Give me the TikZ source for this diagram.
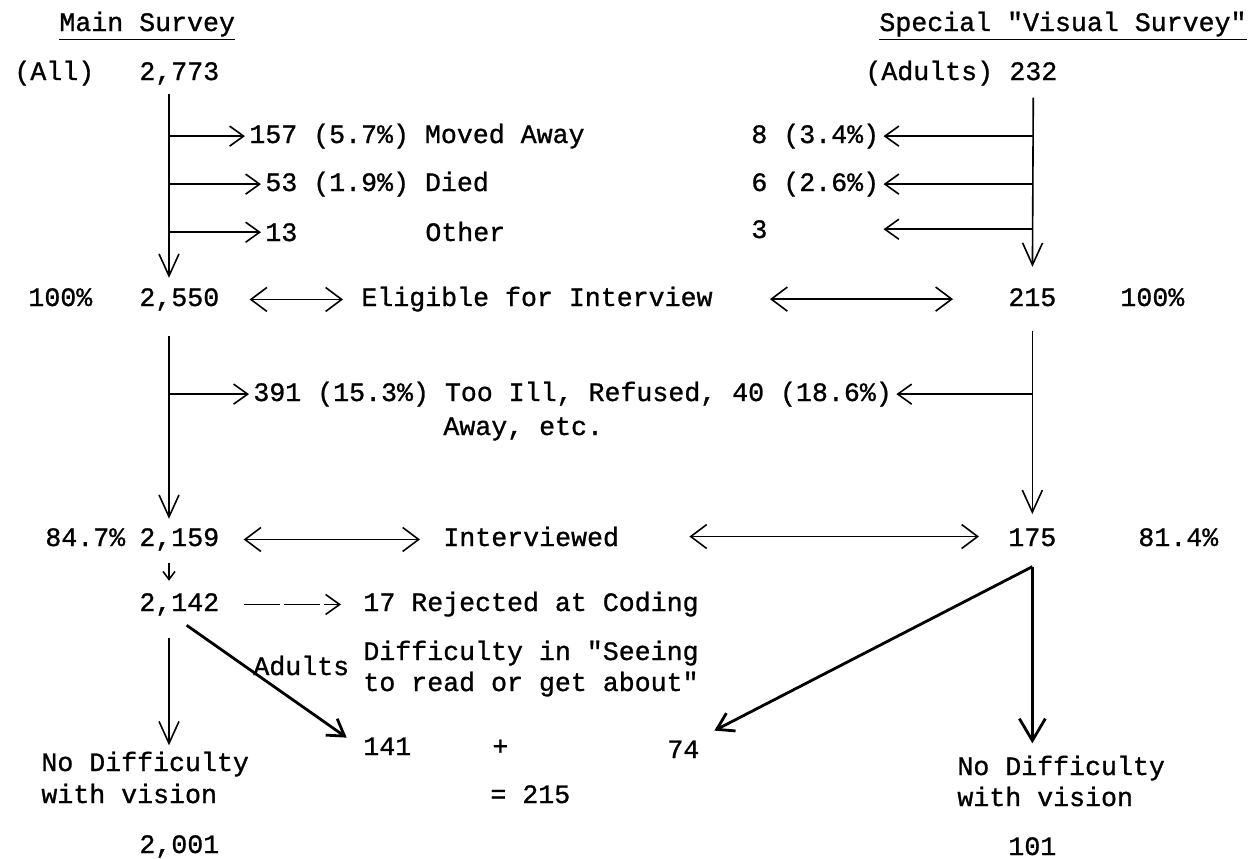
\documentclass[tikz,border=0pt]{standalone}
\usepackage{fontspec}
\setmainfont{Liberation Mono}[Ligatures=TeXOff, FakeBold=1]
\usepackage{tikz}
\usetikzlibrary{arrows.meta,calc}

\begin{document}
\begin{tikzpicture}[x=0.5pt, y=-0.5pt,
    every node/.style={font=\fontsize{13.3}{16}\selectfont, inner sep=2pt, anchor=base west},
    flow/.style={line width=0.8pt, -{Straight Barb[length=7pt,width=10pt]}},
    downflow/.style={line width=0.8pt, -{Straight Barb[length=11pt,width=10pt]}},
    both/.style={line width=0.8pt, {Straight Barb[length=8pt,width=12pt]}-{Straight Barb[length=8pt,width=12pt]}},
    heavy/.style={line width=1.4pt, -{Straight Barb[length=8pt,width=10pt]}}]

\useasboundingbox (0,0) rectangle (1257,858);
\coordinate (lcol) at (169,0);

% Headings
\node (mainhd) at (55,31) {\underline{Main Survey}};
\node (spechd) at (875,31) {\underline{Special "Visual Survey"}};

% Starting counts
\node (all) at (10,80) {(All)};
\node (n2773) at (135,80) {2,773};
\node (adults) at (861,80) {(Adults)};
\node (n232) at (1005,80) {232};

% Losses before eligibility
\node (moved) at (245,143) {157 (5.7\%) Moved Away};
\node (died) at (261,191) {53 (1.9\%) Died};
\node (oth) at (261,241) {13};
\node (othlbl) at (421,241) {Other};
\node (r8) at (747,143) {8 (3.4\%)};
\node (r6) at (747,191) {6 (2.6\%)};
\node (r3) at (747,238) {3};

% Eligible
\node (pl100) at (24,306) {100\%};
\node (n2550) at (135,306) {2,550};
\node (elig) at (357,306) {Eligible for Interview};
\node (n215) at (1004,306) {215};
\node (pr100) at (1116,306) {100\%};

% Not interviewed
\node (toill) at (249,401) {391 (15.3\%) Too Ill, Refused, 40 (18.6\%)};
\node (away) at (439,435) {Away, etc.};

% Interviewed
\node (pl847) at (41,546) {84.7\%};
\node (n2159) at (135,546) {2,159};
\node (intv) at (439,546) {Interviewed};
\node (n175) at (1004,546) {175};
\node (pr814) at (1134,546) {81.4\%};

% Coding and difficulty
\node (n2142) at (135,611) {2,142};
\node (rej) at (359,611) {17 Rejected at Coding};
\node (seeA) at (359,660) {Difficulty in "Seeing};
\node (seeB) at (359,691) {to read or get about"};
\node (adlt) at (249,675) {Adults};
\node (n141) at (359,755) {141};
\node (plus) at (488,755) {+};
\node (n74) at (663,758) {74};
\node (sum) at (486,803) {= 215};

% No difficulty
\node (nodl1) at (37,771) {No Difficulty};
\node (nodl2) at (37,803) {with vision};
\node (n2001) at (135,853) {2,001};
\node (nodr1) at (953,775) {No Difficulty};
\node (nodr2) at (953,806) {with vision};
\node (n101) at (1004,855) {101};

% Main survey column
\draw[downflow, shorten <=2.5pt, shorten >=3pt] (lcol |- n2773.south) -- (lcol |- n2550.north);
\draw[flow] (lcol |- moved.west) -- (moved.west);
\draw[flow] (lcol |- died.west) -- (died.west);
\draw[flow] (lcol |- oth.west) -- (oth.west);
\draw[downflow, shorten <=10.5pt, shorten >=2.5pt] (lcol |- n2550.south) -- (lcol |- n2159.north);
\draw[flow] (lcol |- toill.west) -- (toill.west);
\draw[line width=0.8pt, -{Straight Barb[length=4pt,width=6pt]}, shorten <=4pt, shorten >=4pt] (lcol |- n2159.south) -- (lcol |- n2142.north);
\draw[flow, dash pattern=on 18pt off 2pt, shorten <=10pt, shorten >=9pt] (n2142.east) -- (n2142.east -| rej.west);
\draw[heavy, shorten <=4.5pt, shorten >=7.5pt] (n2142.south) -- (n141.west);
\draw[downflow, shorten <=9pt, shorten >=1pt] (lcol |- n2142.south) -- (lcol |- nodl1.north);

% Visual survey column
\draw[downflow, shorten <=6.5pt, shorten >=8.5pt] (n232.south) -- (n215.north);
\draw[flow] (n232.south |- r8.east) -- (r8.east);
\draw[flow] (n232.south |- r6.east) -- (r6.east);
\draw[flow] (n232.south |- r3.east) -- (r8.east |- r3.east);
\draw[downflow, shorten <=10pt, shorten >=5pt] (n215.south) -- (n175.north);
\draw[flow] (n215.south |- toill.east) -- (toill.east);
\coordinate (fork) at ($(n175.south)+(0,-8pt)$);
\draw[heavy, shorten >=6pt] (fork) -- (n74.north east);
\draw[heavy, -{Straight Barb[length=11pt,width=13pt]}, shorten >=4pt] (fork) -- (fork |- nodr1.north);

% Links between the surveys
\draw[both, shorten <=13pt, shorten >=7pt] (n2550.east) -- (n2550.east -| elig.west);
\draw[both, shorten <=26.5pt, shorten >=25.5pt] (elig.east) -- (elig.east -| n215.west);
\draw[both, shorten <=10pt, shorten >=9.5pt] (n2159.east) -- (n2159.east -| intv.west);
\draw[both, shorten <=33pt, shorten >=12.5pt] (intv.east) -- (intv.east -| n175.west);

\end{tikzpicture}
\end{document}
